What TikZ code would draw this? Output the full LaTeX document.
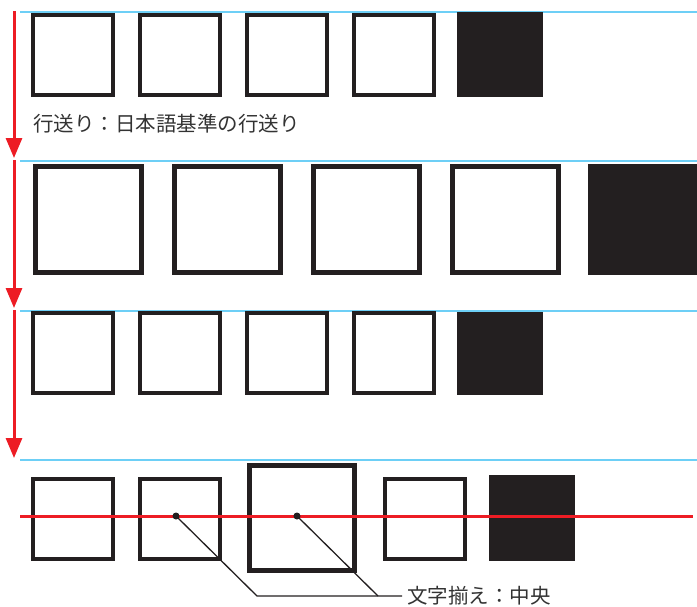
\documentclass[tikz,border=0pt]{standalone}
\usepackage{fontspec}
\newfontfamily\jp{Noto Sans CJK JP}
\usetikzlibrary{arrows.meta}
\definecolor{boxblack}{HTML}{231F20}
\definecolor{guideblue}{HTML}{6DCFF6}
\definecolor{arrowred}{HTML}{ED1C24}
\definecolor{textgray}{HTML}{333333}
\tikzset{
  smallbox/.style={draw=boxblack, line width=4pt, inner sep=0pt, minimum size=80pt},
  largebox/.style={draw=boxblack, line width=5pt, inner sep=0pt, minimum size=105.5pt},
  fillbox/.style={fill=boxblack, inner sep=0pt},
  guide/.style={guideblue, line width=2pt},
  feedarrow/.style={arrowred, line width=3pt, -{Triangle[width=16pt,length=20pt]}},
  baseline red/.style={arrowred, line width=3pt},
  dot/.style={circle, fill=boxblack, inner sep=0pt, minimum size=7pt},
  leader/.style={boxblack, line width=1.3pt},
  label/.style={font=\jp\fontsize{20.5}{24}\selectfont, text=textgray, inner sep=0pt}
}
\begin{document}
\begin{tikzpicture}[x=1pt,y=-1pt]
\useasboundingbox (0,0) rectangle (697,606);
% guide lines
\coordinate (g1a) at (20,12);  \coordinate (g1b) at (697,12);
\coordinate (g2a) at (20,160.5); \coordinate (g2b) at (697,160.5);
\coordinate (g3a) at (20,310.5); \coordinate (g3b) at (697,310.5);
\coordinate (g4a) at (20,460); \coordinate (g4b) at (697,460);
\draw[guide] (g1a) -- (g1b);
\draw[guide] (g2a) -- (g2b);
\draw[guide] (g3a) -- (g3b);
\draw[guide] (g4a) -- (g4b);
% row 1
\node[smallbox] (r1a) at (73,54.6) {};
\node[smallbox] (r1b) at (180,54.6) {};
\node[smallbox] (r1c) at (287,54.6) {};
\node[smallbox] (r1d) at (394,54.6) {};
\node[fillbox, minimum width=86pt, minimum height=85pt] (r1e) at (500,54.5) {};
\node[label, anchor=west] (t1) at (33,124) {行送り：日本語基準の行送り};
% row 2
\node[largebox] (r2a) at (88.7,219.7) {};
\node[largebox] (r2b) at (227.7,219.7) {};
\node[largebox] (r2c) at (366.7,219.7) {};
\node[largebox] (r2d) at (505.4,219.7) {};
\node[fillbox, minimum width=109pt, minimum height=111pt] (r2e) at (642.5,219.5) {};
% row 3
\node[smallbox] (r3a) at (73,353.4) {};
\node[smallbox] (r3b) at (180,353.4) {};
\node[smallbox] (r3c) at (287,353.4) {};
\node[smallbox] (r3d) at (394,353.4) {};
\node[fillbox, minimum width=86pt, minimum height=83pt] (r3e) at (500,353.5) {};
% row 4
\node[smallbox] (r4a) at (73,518.5) {};
\node[smallbox] (r4b) at (180,518.5) {};
\node[draw=boxblack, line width=5pt, inner sep=0pt, minimum size=104.5pt] (r4c) at (302,518) {};
\node[smallbox] (r4d) at (425,518.5) {};
\node[fillbox, minimum width=86pt, minimum height=86pt] (r4e) at (532,518) {};
% feed arrows
\coordinate (a1s) at (14,11);  \coordinate (a1e) at (14,158);
\coordinate (a2s) at (14,160); \coordinate (a2e) at (14,308);
\coordinate (a3s) at (14,310); \coordinate (a3e) at (14,458);
\draw[feedarrow] (a1s) -- (a1e);
\draw[feedarrow] (a2s) -- (a2e);
\draw[feedarrow] (a3s) -- (a3e);
% centre line
\coordinate (cl1) at (20,516); \coordinate (cl2) at (693,516);
\draw[baseline red] (cl1) -- (cl2);
% dots and leaders
\node[dot] (d1) at (176,516) {};
\node[dot] (d2) at (297,516) {};
\node[label, anchor=west] (t2) at (407,596) {文字揃え：中央};
\coordinate (k1) at (257,596);
\coordinate (k2) at (378,596);
\coordinate (k3) at (402,596);
\draw[leader] (d1.center) -- (k1) -- (k3);
\draw[leader] (d2.center) -- (k2);
\end{tikzpicture}
\end{document}
